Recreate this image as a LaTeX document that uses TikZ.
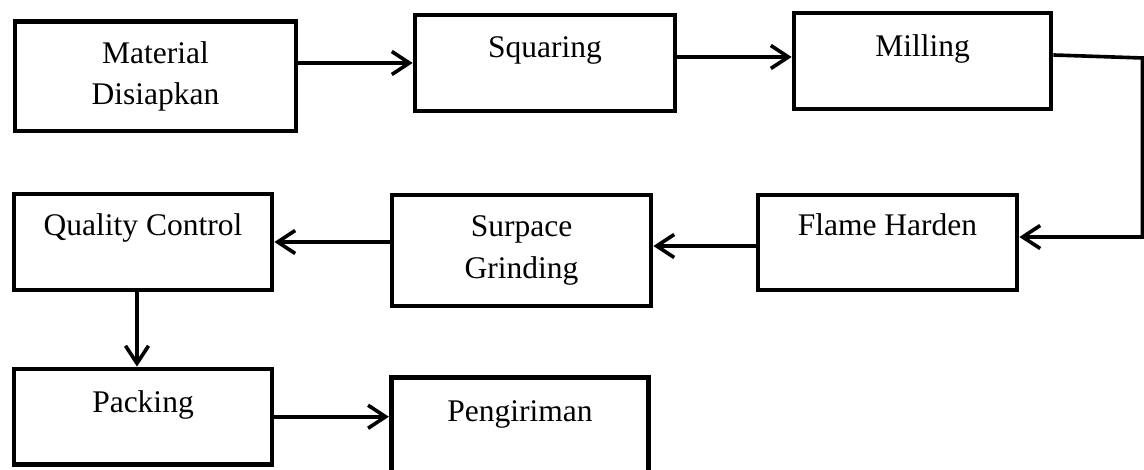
\documentclass[tikz,border=0pt]{standalone}
\usepackage{fontspec}
\setmainfont{Liberation Serif}
\usetikzlibrary{arrows.meta}
\begin{document}
\begin{tikzpicture}[x=0.4pt,y=-0.4pt,
  stepbox/.style={draw, line width=1.9pt, inner sep=0pt, align=center,
    font=\fontsize{12.6pt}{16.6pt}\selectfont},
  flow/.style={line width=1.45pt, -{Straight Barb[length=7pt,width=9.2pt]}}]
\useasboundingbox (0,0) rectangle (1144,470);
%\draw (0,0) rectangle (1144,470);

\draw (155.5,76.25) node[stepbox, minimum width=112.4pt, minimum height=43.8pt] (mat) {Material\\Disiapkan};
\draw (545,63) node[stepbox, minimum width=104pt, text height=17.2pt, text depth=21.2pt] (sq) {Squaring};
\draw (922.5,61) node[stepbox, minimum width=102.8pt, text height=17.6pt, text depth=20.8pt] (mil) {Milling};
\draw (887.5,242.5) node[stepbox, minimum width=103.6pt, text height=16.4pt, text depth=21.6pt] (fh) {Flame Harden};
\draw (521.5,250.5) node[stepbox, minimum width=103.6pt, minimum height=44.4pt] (sg) {Surpace\\Grinding};
\draw (143,242) node[stepbox, minimum width=103.2pt, text height=16.8pt, text depth=21.6pt] (qc) {Quality Control};
\draw (143,416.75) node[stepbox, minimum width=103.2pt, text height=17.6pt, text depth=20.6pt] (pack) {Packing};
\draw (520,427.5) node[stepbox, minimum width=103pt, text height=17.8pt, text depth=22.2pt] (kirim) {Pengiriman};

\draw[flow] (mat.east |- sq.west) -- (sq.west);
\draw[flow] ([yshift=2.4pt]sq.east) -- ([yshift=2.4pt]sq.east -| mil.west);
\draw[flow] ([yshift=2.4pt]mil.east) -- ++(35.6pt,-1.2pt) |- ([yshift=2.2pt]fh.east);
\draw[flow] ([yshift=-1.4pt]fh.west) -- ([yshift=-1.4pt]fh.west -| sg.east);
\draw[flow] (sg.west |- qc.east) -- (qc.east);
\draw[flow] ([xshift=-2.4pt]qc.south) -- ([xshift=-2.4pt]qc.south |- pack.north);
\draw[flow] (pack.east) -- (pack.east -| kirim.west);
\end{tikzpicture}
\end{document}
